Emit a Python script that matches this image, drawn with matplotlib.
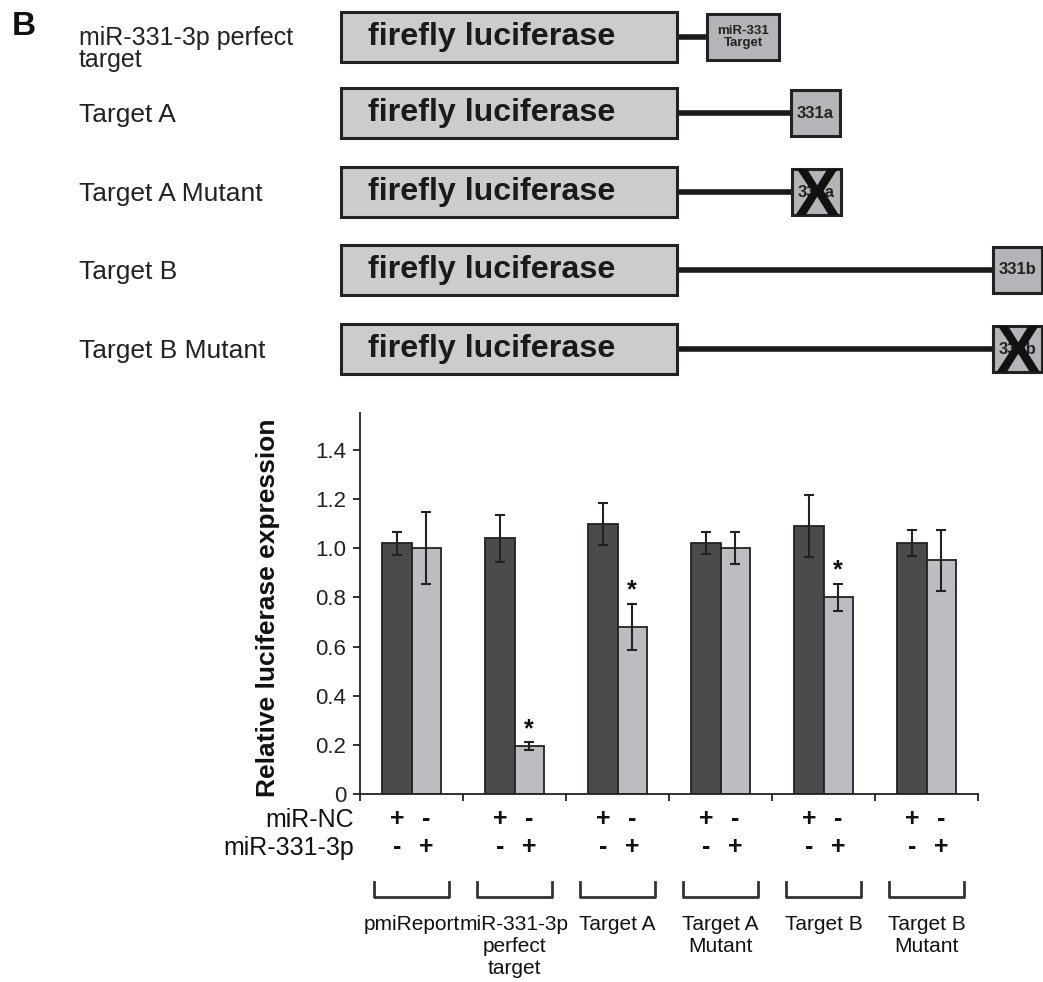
import numpy as np
import matplotlib.pyplot as plt
from matplotlib.patches import Rectangle
from matplotlib.transforms import blended_transform_factory

# bar data: relative luciferase expression (mean, error)
groups = ['pmiReport', 'miR-331-3p\nperfect\ntarget', 'Target A',
          'Target A\nMutant', 'Target B', 'Target B\nMutant']
nc_mean = [1.02, 1.04, 1.10, 1.02, 1.09, 1.02]
nc_err = [0.047, 0.095, 0.085, 0.045, 0.127, 0.053]
mir_mean = [1.00, 0.195, 0.68, 1.00, 0.80, 0.95]
mir_err = [0.147, 0.015, 0.093, 0.065, 0.055, 0.125]
signif = [False, True, True, False, True, False]

yticks = [0, 0.2, 0.4, 0.6, 0.8, 1.0, 1.2, 1.4]
ytick_labels = ['0', '0.2', '0.4', '0.6', '0.8', '1.0', '1.2', '1.4']

# construct diagram: label, target box text, target box left edge (px), mutated
constructs = [
    ('miR-331-3p perfect\ntarget', 'miR-331\nTarget', 707, False),
    ('Target A', '331a', 791, False),
    ('Target A Mutant', '331a', 792, True),
    ('Target B', '331b', 993, False),
    ('Target B Mutant', '331b', 993, True),
]
row_top = [12, 88, 167, 245, 324]

plt.rcParams['font.family'] = ['Liberation Sans', 'DejaVu Sans']

W, H = 1043, 982
fig = plt.figure(figsize=(W / 100, H / 100), dpi=100)

# ---- top schematic ----
dg = fig.add_axes([0, 0, 1, 1])
dg.set_xlim(0, W)
dg.set_ylim(H, 0)
dg.axis('off')

dg.text(12, 35, 'B', fontsize=24, fontweight='bold', va='baseline', ha='left', color='#111')

box_l, box_r, box_h = 341, 677, 50
for (lab, tgt, tx, mutant), top in zip(constructs, row_top):
    cy = top + box_h / 2
    dg.add_patch(Rectangle((box_l, top), box_r - box_l, box_h, facecolor='#cbcccd',
                           edgecolor='#222222', lw=2.2, zorder=2))
    dg.text(box_l + 27, cy, 'firefly luciferase', fontsize=23.2, fontweight='bold',
            ha='left', va='center', color='#1a1a1a', zorder=3)
    tw = 72 if '\n' in tgt else 49
    th = 46
    dg.plot([box_r, tx], [cy, cy], color='#1a1a1a', lw=4, solid_capstyle='butt', zorder=1)
    dg.add_patch(Rectangle((tx, cy - th / 2), tw, th, facecolor='#b4b5b8',
                           edgecolor='#222222', lw=2.2, zorder=2))
    dg.text(tx + tw / 2, cy, tgt, fontsize=9.5 if '\n' in tgt else 12, fontweight='bold',
            ha='center', va='center', color='#222', linespacing=1.1, zorder=3)
    if mutant:
        dg.text(tx + tw / 2, cy + th / 2, 'X', fontsize=48, fontweight='bold', ha='center',
                va='baseline', color='#111', zorder=4)
    if '\n' in lab:
        dg.text(79, 45, lab.split('\n')[0], fontsize=18, ha='left', va='baseline',
                color='#222')
        dg.text(79, 67, lab.split('\n')[1], fontsize=18, ha='left', va='baseline',
                color='#222')
    else:
        dg.text(79, cy + 2, lab, fontsize=19, ha='left', va='center', color='#222')

# ---- bar chart ----
ax = fig.add_axes([360 / W, 1 - 794 / H, 618 / W, 381 / H])
x = np.arange(len(groups))
bw = 0.285
ekw = dict(ecolor='#222', elinewidth=1.5, capsize=3.5, capthick=1.5)
ax.bar(x - bw / 2, nc_mean, bw, yerr=nc_err, color='#4a4b4d', edgecolor='#222',
       lw=1.3, error_kw=ekw, zorder=2)
ax.bar(x + bw / 2, mir_mean, bw, yerr=mir_err, color='#bcbdc0', edgecolor='#222',
       lw=1.3, error_kw=ekw, zorder=2)
for xi, m, e, s in zip(x, mir_mean, mir_err, signif):
    if s:
        ax.annotate('*', (xi + bw / 2, m + e), xytext=(0, 1), textcoords='offset points',
                    ha='center', va='bottom', fontsize=18, fontweight='bold', color='#111')

ax.set_xlim(-0.5, len(groups) - 0.5)
ax.set_ylim(0, 1.55)
ax.set_yticks(yticks)
ax.set_yticklabels(ytick_labels)
ax.set_xticks(np.arange(len(groups) + 1) - 0.5)
ax.set_xticklabels([])
for s in ['top', 'right']:
    ax.spines[s].set_visible(False)
for s in ['left', 'bottom']:
    ax.spines[s].set_color('#222')
    ax.spines[s].set_linewidth(1.3)
ax.tick_params(axis='y', length=5, width=1.3, color='#222', labelsize=16,
               labelcolor='#222', pad=5)
ax.tick_params(axis='x', length=5, width=1.3, color='#222')
ax.set_ylabel('Relative luciferase expression', fontsize=19, fontweight='bold',
              color='#111')
ax.yaxis.set_label_coords(-0.13, 0.49)

# treatment rows and group brackets below the axis
tr = blended_transform_factory(ax.transData, fig.transFigure)
fy = lambda py: 1 - py / H
fig.text(354 / W, fy(820), 'miR-NC', ha='right', va='center', fontsize=18, color='#111')
fig.text(354 / W, fy(848), 'miR-331-3p', ha='right', va='center', fontsize=18, color='#111')
signs = {'nc': ['+', '-'], 'mir': ['-', '+']}
for xi in x:
    for k, py in (('nc', 819), ('mir', 847)):
        for off, sg in zip((-bw / 2, bw / 2), signs[k]):
            ax.text(xi + off, fy(py), sg, transform=tr, ha='center', va='center',
                    fontsize=18, fontweight='bold', color='#111', clip_on=False)
    ax.plot([xi - 0.365, xi - 0.365, xi + 0.365, xi + 0.365],
            [fy(882), fy(897), fy(897), fy(882)], transform=tr, color='#333',
            lw=2, clip_on=False)
for xi, g in zip(x, groups):
    ax.text(xi, fy(915), g, transform=tr, ha='center', va='top', fontsize=15,
            color='#111', linespacing=1.2, clip_on=False)

fig.savefig('out.png', dpi=100)
